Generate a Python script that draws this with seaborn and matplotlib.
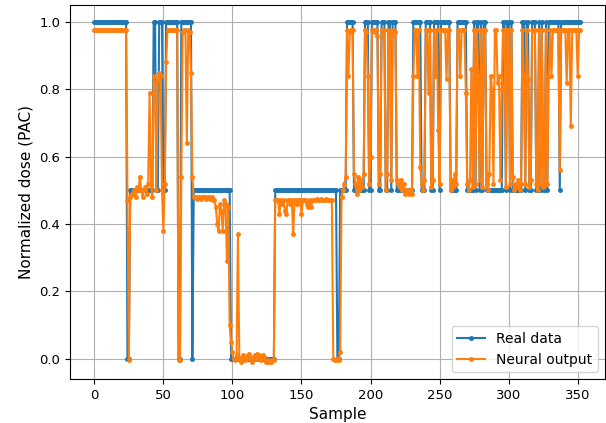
import matplotlib
matplotlib.use('Agg')

import matplotlib.pyplot as plt
import seaborn as sns
import pandas as pd

# real dose, one value per sample
real_data = [
    1, 1, 1, 1, 1, 1, 1, 1, 1, 1,
    1, 1, 1, 1, 1, 1, 1, 1, 1, 1,
    1, 1, 1, 1, 0, 0, .5, .5, .5, .5,
    .5, .5, .5, .5, .5, .5, .5, .5, .5, .5,
    .5, .5, .5, 1, 1, .5, .5, 1, 1, 1,
    .5, .5, 1, 1, 1, 1, 1, 1, 1, 1,
    1, 0, 0, 1, 1, 1, 1, 1, 1, 1,
    1, 0, .5, .5, .5, .5, .5, .5, .5, .5,
    .5, .5, .5, .5, .5, .5, .5, .5, .5, .5,
    .5, .5, .5, .5, .5, .5, .5, .5, .5, 0,
    0, 0, 0, 0, 0, 0, 0, 0, 0, 0,
    0, 0, 0, 0, 0, 0, 0, 0, 0, 0,
    0, 0, 0, 0, 0, 0, 0, 0, 0, 0,
    0, .5, .5, .5, .5, .5, .5, .5, .5, .5,
    .5, .5, .5, .5, .5, .5, .5, .5, .5, .5,
    .5, .5, .5, .5, .5, .5, .5, .5, .5, .5,
    .5, .5, .5, .5, .5, .5, .5, .5, .5, .5,
    .5, .5, .5, .5, .5, .5, 0, 0, .5, .5,
    .5, .5, .5, 1, 1, 1, 1, 1, .5, .5,
    .5, .5, .5, .5, .5, .5, 1, 1, 1, .5,
    .5, 1, 1, 1, 1, 1, .5, .5, 1, 1,
    1, .5, .5, 1, 1, .5, 1, 1, 1, .5,
    .5, .5, .5, .5, .5, .5, .5, .5, .5, .5,
    .5, 1, 1, 1, 1, 1, 1, .5, .5, .5,
    1, 1, 1, 1, .5, .5, 1, 1, 1, 1,
    .5, 1, 1, 1, 1, 1, 1, 1, .5, .5,
    .5, .5, .5, 1, 1, 1, 1, 1, 1, 1,
    .5, .5, .5, .5, .5, 1, .5, 1, 1, .5,
    1, .5, 1, 1, .5, .5, .5, .5, .5, .5,
    .5, .5, .5, .5, .5, .5, 1, 1, .5, 1,
    1, .5, 1, .5, .5, .5, .5, .5, .5, .5,
    1, 1, .5, 1, 1, .5, .5, 1, 1, 1,
    .5, .5, 1, .5, 1, .5, .5, 1, .5, 1,
    1, 1, 1, 1, 1, 1, 1, .5, 1, 1,
    1, 1, 1, 1, 1, 1, 1, 1, 1, 1,
    1, 1, 1,
]

# network prediction for the same samples
neural_output = [
    .975, .975, .975, .975, .975, .975, .975, .975, .975, .975,
    .975, .975, .975, .975, .975, .975, .975, .975, .975, .975,
    .975, .975, .975, .975, .47, -.005, .48, .49, .49, .50,
    .48, .51, .50, .54, .50, .48, .50, .51, .49, .52,
    .79, .52, .48, .84, .82, .50, .83, .85, .84, .50,
    .38, .52, .88, .975, .975, .975, .975, .975, .975, .975,
    .975, -.005, -.005, .54, .97, .975, .975, .64, .975, .97,
    .85, .54, .48, .48, .475, .48, .48, .475, .48, .48,
    .48, .475, .48, .48, .475, .48, .47, .47, .45, .40,
    .38, .46, .44, .38, .47, .46, .29, .45, .10, .05,
    .02, .00, -.005, .01, .37, .00, -.01, .005, .01, -.005,
    .00, .01, .015, .00, -.01, .005, .01, .00, .015, .01,
    .00, -.005, .01, .005, -.01, -.01, -.005, -.01, -.01, -.005,
    -.005, .47, .47, .47, .43, .47, .46, .47, .44, .43,
    .47, .47, .46, .47, .37, .47, .47, .46, .47, .47,
    .43, .47, .47, .47, .46, .45, .47, .45, .47, .47,
    .47, .475, .47, .47, .475, .47, .47, .47, .475, .47,
    .47, .47, .47, .00, -.005, -.005, .00, -.005, .02, .48,
    .50, .52, .54, .975, .84, .97, .975, .975, .55, .52,
    .49, .54, .50, .53, .51, .55, .975, .97, .84, .52,
    .60, .975, .975, .97, .975, .96, .52, .55, .975, .96,
    .975, .50, .55, .975, .97, .53, .975, .975, .97, .53,
    .52, .51, .53, .50, .52, .49, .50, .50, .49, .50,
    .49, .84, .975, .975, .84, .975, .57, .52, .50, .53,
    .975, .975, .79, .975, .51, .53, .975, .84, .975, .68,
    .52, .975, .975, .975, .975, .83, .975, .975, .50, .53,
    .51, .55, .52, .975, .975, .84, .975, .975, .975, .79,
    .52, .50, .53, .86, .51, .975, .52, .975, .84, .53,
    .975, .51, .975, .975, .52, .50, .55, .84, .80, .52,
    .975, .975, .82, .84, .53, .80, .975, .975, .51, .975,
    .975, .52, .975, .54, .50, .52, .51, .53, .50, .52,
    .975, .84, .52, .975, .83, .51, .53, .975, .975, .975,
    .52, .50, .975, .52, .975, .51, .53, .975, .52, .84,
    .975, .84, .975, .975, .975, .975, .975, .56, .975, .975,
    .975, .975, .82, .975, .975, .69, .975, .975, .975, .975,
    .84, .975, .975,
]

samples = list(range(len(real_data)))
df = pd.DataFrame({'Sample': samples, 'Real data': real_data, 'Neural output': neural_output})

fig = plt.figure(figsize=(6.06, 4.23), dpi=100)
ax = fig.add_axes([0.1155, 0.104, 0.8825, 0.884])

for col, color in [('Real data', '#1f77b4'), ('Neural output', '#ff7f0e')]:
    sns.lineplot(data=df, x='Sample', y=col, ax=ax, color=color, label=col,
                 marker='o', markersize=3, markeredgecolor=color,
                 markeredgewidth=0.5, linewidth=1.5)

ax.set_xlabel('Sample', fontsize=11)
ax.set_ylabel('Normalized dose (PAC)', fontsize=11)
ax.set_xticks([0, 50, 100, 150, 200, 250, 300, 350])
ax.set_yticks([0.0, 0.2, 0.4, 0.6, 0.8, 1.0])
ax.tick_params(labelsize=9.5)
ax.grid(True)
ax.legend(loc='lower right', fontsize=10)

plt.savefig('out.png', dpi=100)
plt.close()
